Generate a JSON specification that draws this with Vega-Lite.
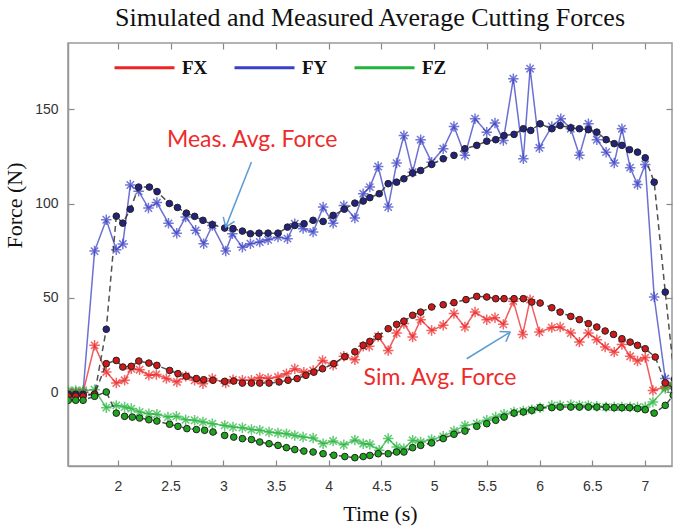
{
"$schema": "https://vega.github.io/schema/vega-lite/v6.json",
"width": 604,
"height": 423,
"autosize": {"type": "none"},
"padding": {"left": 68, "top": 43, "right": 2, "bottom": 62},
"background": "white",
"title": {"text": "Simulated and Measured Average Cutting Forces", "font": "Liberation Serif", "fontSize": 26, "fontWeight": "normal", "color": "#111", "anchor": "middle", "offset": 5},
"config": {
  "view": {"stroke": "#999", "strokeWidth": 1.5},
  "axis": {"grid": false, "domainColor": "#999", "domainWidth": 1.5, "tickColor": "#888", "tickWidth": 1.2, "labelFont": "Liberation Sans", "labelFontSize": 14, "labelColor": "#333", "titleFont": "Liberation Serif", "titleFontSize": 22, "titleFontWeight": "normal", "titleColor": "#111"}
},
"datasets": {
"forces": [
{"c":"FY","k":"meas","t":1.53,"f":0},{"c":"FY","k":"meas","t":1.6,"f":0},{"c":"FY","k":"meas","t":1.67,"f":0},{"c":"FY","k":"meas","t":1.779,"f":74.8},{"c":"FY","k":"meas","t":1.89,"f":91.4},{"c":"FY","k":"meas","t":1.985,"f":75.5},{"c":"FY","k":"meas","t":2.047,"f":78.6},{"c":"FY","k":"meas","t":2.118,"f":109.8},{"c":"FY","k":"meas","t":2.197,"f":106.5},{"c":"FY","k":"meas","t":2.29,"f":97.6},{"c":"FY","k":"meas","t":2.37,"f":100.5},{"c":"FY","k":"meas","t":2.48,"f":89.5},{"c":"FY","k":"meas","t":2.558,"f":84.2},{"c":"FY","k":"meas","t":2.643,"f":92.8},{"c":"FY","k":"meas","t":2.738,"f":85.8},{"c":"FY","k":"meas","t":2.814,"f":78.7},{"c":"FY","k":"meas","t":2.896,"f":88.4},{"c":"FY","k":"meas","t":3.023,"f":74.8},{"c":"FY","k":"meas","t":3.086,"f":84},{"c":"FY","k":"meas","t":3.181,"f":76.9},{"c":"FY","k":"meas","t":3.257,"f":78.7},{"c":"FY","k":"meas","t":3.346,"f":79.6},{"c":"FY","k":"meas","t":3.425,"f":80.8},{"c":"FY","k":"meas","t":3.519,"f":82.2},{"c":"FY","k":"meas","t":3.609,"f":81.4},{"c":"FY","k":"meas","t":3.678,"f":89.3},{"c":"FY","k":"meas","t":3.757,"f":86.7},{"c":"FY","k":"meas","t":3.852,"f":84.9},{"c":"FY","k":"meas","t":3.947,"f":98.1},{"c":"FY","k":"meas","t":4.042,"f":89.5},{"c":"FY","k":"meas","t":4.143,"f":99},{"c":"FY","k":"meas","t":4.248,"f":92.3},{"c":"FY","k":"meas","t":4.327,"f":105.2},{"c":"FY","k":"meas","t":4.39,"f":108.7},{"c":"FY","k":"meas","t":4.469,"f":119.6},{"c":"FY","k":"meas","t":4.564,"f":98.1},{"c":"FY","k":"meas","t":4.644,"f":121.4},{"c":"FY","k":"meas","t":4.713,"f":136},{"c":"FY","k":"meas","t":4.796,"f":116.6},{"c":"FY","k":"meas","t":4.872,"f":133.8},{"c":"FY","k":"meas","t":4.976,"f":121.9},{"c":"FY","k":"meas","t":5.086,"f":129},{"c":"FY","k":"meas","t":5.188,"f":140.8},{"c":"FY","k":"meas","t":5.292,"f":125.5},{"c":"FY","k":"meas","t":5.388,"f":144.9},{"c":"FY","k":"meas","t":5.499,"f":137.8},{"c":"FY","k":"meas","t":5.577,"f":142.6},{"c":"FY","k":"meas","t":5.656,"f":133.4},{"c":"FY","k":"meas","t":5.751,"f":166.1},{"c":"FY","k":"meas","t":5.846,"f":123.7},{"c":"FY","k":"meas","t":5.91,"f":171.4},{"c":"FY","k":"meas","t":5.998,"f":129.5},{"c":"FY","k":"meas","t":6.116,"f":140.8},{"c":"FY","k":"meas","t":6.201,"f":144.9},{"c":"FY","k":"meas","t":6.296,"f":139.6},{"c":"FY","k":"meas","t":6.378,"f":125.5},{"c":"FY","k":"meas","t":6.463,"f":142.2},{"c":"FY","k":"meas","t":6.543,"f":133.8},{"c":"FY","k":"meas","t":6.631,"f":127.2},{"c":"FY","k":"meas","t":6.708,"f":121.4},{"c":"FY","k":"meas","t":6.781,"f":139.6},{"c":"FY","k":"meas","t":6.859,"f":119},{"c":"FY","k":"meas","t":6.929,"f":110.1},{"c":"FY","k":"meas","t":7.002,"f":120.7},{"c":"FY","k":"meas","t":7.087,"f":50.5},{"c":"FY","k":"meas","t":7.192,"f":7.3},{"c":"FY","k":"meas","t":7.28,"f":2},
{"c":"FY","k":"sim","t":1.53,"f":-1},{"c":"FY","k":"sim","t":1.6,"f":-1},{"c":"FY","k":"sim","t":1.67,"f":-1},{"c":"FY","k":"sim","t":1.779,"f":-1},{"c":"FY","k":"sim","t":1.89,"f":33.4},{"c":"FY","k":"sim","t":1.985,"f":93.3},{"c":"FY","k":"sim","t":2.047,"f":89.6},{"c":"FY","k":"sim","t":2.118,"f":97},{"c":"FY","k":"sim","t":2.197,"f":108.7},{"c":"FY","k":"sim","t":2.299,"f":108.7},{"c":"FY","k":"sim","t":2.372,"f":106.3},{"c":"FY","k":"sim","t":2.488,"f":100},{"c":"FY","k":"sim","t":2.565,"f":97.9},{"c":"FY","k":"sim","t":2.65,"f":94.9},{"c":"FY","k":"sim","t":2.728,"f":93.2},{"c":"FY","k":"sim","t":2.807,"f":91.1},{"c":"FY","k":"sim","t":2.896,"f":88.8},{"c":"FY","k":"sim","t":3.013,"f":87},{"c":"FY","k":"sim","t":3.092,"f":86.7},{"c":"FY","k":"sim","t":3.181,"f":85.4},{"c":"FY","k":"sim","t":3.257,"f":84},{"c":"FY","k":"sim","t":3.339,"f":84.3},{"c":"FY","k":"sim","t":3.425,"f":84.3},{"c":"FY","k":"sim","t":3.519,"f":84.3},{"c":"FY","k":"sim","t":3.609,"f":87.5},{"c":"FY","k":"sim","t":3.678,"f":88.4},{"c":"FY","k":"sim","t":3.766,"f":89.3},{"c":"FY","k":"sim","t":3.852,"f":91.1},{"c":"FY","k":"sim","t":3.947,"f":90.5},{"c":"FY","k":"sim","t":4.042,"f":93.7},{"c":"FY","k":"sim","t":4.148,"f":97},{"c":"FY","k":"sim","t":4.248,"f":100.2},{"c":"FY","k":"sim","t":4.327,"f":101.3},{"c":"FY","k":"sim","t":4.39,"f":103.1},{"c":"FY","k":"sim","t":4.479,"f":105.2},{"c":"FY","k":"sim","t":4.564,"f":110.5},{"c":"FY","k":"sim","t":4.644,"f":111.3},{"c":"FY","k":"sim","t":4.713,"f":113.1},{"c":"FY","k":"sim","t":4.796,"f":116.1},{"c":"FY","k":"sim","t":4.872,"f":117.5},{"c":"FY","k":"sim","t":4.976,"f":120.7},{"c":"FY","k":"sim","t":5.086,"f":123.7},{"c":"FY","k":"sim","t":5.188,"f":125.5},{"c":"FY","k":"sim","t":5.292,"f":129},{"c":"FY","k":"sim","t":5.404,"f":130.8},{"c":"FY","k":"sim","t":5.499,"f":133},{"c":"FY","k":"sim","t":5.584,"f":133.8},{"c":"FY","k":"sim","t":5.663,"f":136},{"c":"FY","k":"sim","t":5.758,"f":136.6},{"c":"FY","k":"sim","t":5.846,"f":139.6},{"c":"FY","k":"sim","t":5.916,"f":138.7},{"c":"FY","k":"sim","t":6.005,"f":142.2},{"c":"FY","k":"sim","t":6.116,"f":139.6},{"c":"FY","k":"sim","t":6.195,"f":141.3},{"c":"FY","k":"sim","t":6.296,"f":140.1},{"c":"FY","k":"sim","t":6.378,"f":139.6},{"c":"FY","k":"sim","t":6.463,"f":139.1},{"c":"FY","k":"sim","t":6.543,"f":137.8},{"c":"FY","k":"sim","t":6.631,"f":133.8},{"c":"FY","k":"sim","t":6.708,"f":131.7},{"c":"FY","k":"sim","t":6.781,"f":130.8},{"c":"FY","k":"sim","t":6.853,"f":128.5},{"c":"FY","k":"sim","t":6.929,"f":127.2},{"c":"FY","k":"sim","t":7.002,"f":124.2},{"c":"FY","k":"sim","t":7.087,"f":111.3},{"c":"FY","k":"sim","t":7.192,"f":53.1},{"c":"FY","k":"sim","t":7.28,"f":7},
{"c":"FX","k":"meas","t":1.53,"f":0},{"c":"FX","k":"meas","t":1.6,"f":0},{"c":"FX","k":"meas","t":1.67,"f":0},{"c":"FX","k":"meas","t":1.779,"f":24.9},{"c":"FX","k":"meas","t":1.89,"f":10.8},{"c":"FX","k":"meas","t":1.985,"f":4.9},{"c":"FX","k":"meas","t":2.064,"f":6.4},{"c":"FX","k":"meas","t":2.127,"f":12.5},{"c":"FX","k":"meas","t":2.206,"f":12},{"c":"FX","k":"meas","t":2.294,"f":9},{"c":"FX","k":"meas","t":2.365,"f":9.5},{"c":"FX","k":"meas","t":2.46,"f":7.3},{"c":"FX","k":"meas","t":2.56,"f":5.5},{"c":"FX","k":"meas","t":2.643,"f":8.5},{"c":"FX","k":"meas","t":2.728,"f":6.4},{"c":"FX","k":"meas","t":2.807,"f":4.6},{"c":"FX","k":"meas","t":2.896,"f":7.3},{"c":"FX","k":"meas","t":3.023,"f":4.9},{"c":"FX","k":"meas","t":3.092,"f":6.7},{"c":"FX","k":"meas","t":3.181,"f":6.4},{"c":"FX","k":"meas","t":3.267,"f":6.4},{"c":"FX","k":"meas","t":3.346,"f":7.8},{"c":"FX","k":"meas","t":3.425,"f":7.3},{"c":"FX","k":"meas","t":3.519,"f":8.1},{"c":"FX","k":"meas","t":3.599,"f":9.9},{"c":"FX","k":"meas","t":3.678,"f":12.5},{"c":"FX","k":"meas","t":3.764,"f":10.7},{"c":"FX","k":"meas","t":3.852,"f":11.6},{"c":"FX","k":"meas","t":3.941,"f":16.9},{"c":"FX","k":"meas","t":4.042,"f":14.3},{"c":"FX","k":"meas","t":4.143,"f":19.1},{"c":"FX","k":"meas","t":4.248,"f":17.3},{"c":"FX","k":"meas","t":4.327,"f":24.4},{"c":"FX","k":"meas","t":4.384,"f":24.4},{"c":"FX","k":"meas","t":4.469,"f":29.6},{"c":"FX","k":"meas","t":4.564,"f":22.2},{"c":"FX","k":"meas","t":4.644,"f":31.4},{"c":"FX","k":"meas","t":4.713,"f":36.4},{"c":"FX","k":"meas","t":4.796,"f":29.3},{"c":"FX","k":"meas","t":4.872,"f":38.5},{"c":"FX","k":"meas","t":4.976,"f":32.8},{"c":"FX","k":"meas","t":5.086,"f":35.5},{"c":"FX","k":"meas","t":5.188,"f":41.7},{"c":"FX","k":"meas","t":5.292,"f":34.6},{"c":"FX","k":"meas","t":5.388,"f":42.5},{"c":"FX","k":"meas","t":5.499,"f":38.5},{"c":"FX","k":"meas","t":5.577,"f":39.5},{"c":"FX","k":"meas","t":5.656,"f":36},{"c":"FX","k":"meas","t":5.751,"f":48.3},{"c":"FX","k":"meas","t":5.84,"f":30.7},{"c":"FX","k":"meas","t":5.91,"f":49.1},{"c":"FX","k":"meas","t":5.998,"f":31.9},{"c":"FX","k":"meas","t":6.116,"f":34.3},{"c":"FX","k":"meas","t":6.195,"f":34.6},{"c":"FX","k":"meas","t":6.296,"f":31.4},{"c":"FX","k":"meas","t":6.378,"f":26.6},{"c":"FX","k":"meas","t":6.463,"f":31.4},{"c":"FX","k":"meas","t":6.543,"f":27.9},{"c":"FX","k":"meas","t":6.622,"f":24},{"c":"FX","k":"meas","t":6.708,"f":21.3},{"c":"FX","k":"meas","t":6.781,"f":25.4},{"c":"FX","k":"meas","t":6.859,"f":19.1},{"c":"FX","k":"meas","t":6.929,"f":16.6},{"c":"FX","k":"meas","t":7.002,"f":18.4},{"c":"FX","k":"meas","t":7.075,"f":1},{"c":"FX","k":"meas","t":7.192,"f":3},{"c":"FX","k":"meas","t":7.28,"f":5},
{"c":"FX","k":"sim","t":1.53,"f":-2},{"c":"FX","k":"sim","t":1.6,"f":-2},{"c":"FX","k":"sim","t":1.67,"f":-2},{"c":"FX","k":"sim","t":1.779,"f":-1},{"c":"FX","k":"sim","t":1.89,"f":15.2},{"c":"FX","k":"sim","t":1.985,"f":16.9},{"c":"FX","k":"sim","t":2.047,"f":13.4},{"c":"FX","k":"sim","t":2.127,"f":13.8},{"c":"FX","k":"sim","t":2.199,"f":16.6},{"c":"FX","k":"sim","t":2.294,"f":15.5},{"c":"FX","k":"sim","t":2.37,"f":14.3},{"c":"FX","k":"sim","t":2.491,"f":11.6},{"c":"FX","k":"sim","t":2.57,"f":9.9},{"c":"FX","k":"sim","t":2.65,"f":8.5},{"c":"FX","k":"sim","t":2.745,"f":7.3},{"c":"FX","k":"sim","t":2.814,"f":6.7},{"c":"FX","k":"sim","t":2.902,"f":6.4},{"c":"FX","k":"sim","t":3.013,"f":5.8},{"c":"FX","k":"sim","t":3.099,"f":6},{"c":"FX","k":"sim","t":3.181,"f":4.9},{"c":"FX","k":"sim","t":3.267,"f":4.9},{"c":"FX","k":"sim","t":3.346,"f":4.9},{"c":"FX","k":"sim","t":3.434,"f":4.9},{"c":"FX","k":"sim","t":3.529,"f":5.5},{"c":"FX","k":"sim","t":3.614,"f":6.4},{"c":"FX","k":"sim","t":3.7,"f":7.3},{"c":"FX","k":"sim","t":3.783,"f":9},{"c":"FX","k":"sim","t":3.859,"f":10.7},{"c":"FX","k":"sim","t":3.941,"f":12.5},{"c":"FX","k":"sim","t":4.048,"f":15.2},{"c":"FX","k":"sim","t":4.153,"f":18.9},{"c":"FX","k":"sim","t":4.248,"f":21.5},{"c":"FX","k":"sim","t":4.327,"f":24.9},{"c":"FX","k":"sim","t":4.39,"f":27},{"c":"FX","k":"sim","t":4.469,"f":29.6},{"c":"FX","k":"sim","t":4.564,"f":33.7},{"c":"FX","k":"sim","t":4.644,"f":36},{"c":"FX","k":"sim","t":4.713,"f":37.7},{"c":"FX","k":"sim","t":4.796,"f":40.8},{"c":"FX","k":"sim","t":4.872,"f":42.5},{"c":"FX","k":"sim","t":4.976,"f":45.2},{"c":"FX","k":"sim","t":5.086,"f":46.4},{"c":"FX","k":"sim","t":5.188,"f":47.5},{"c":"FX","k":"sim","t":5.302,"f":49.1},{"c":"FX","k":"sim","t":5.404,"f":50.8},{"c":"FX","k":"sim","t":5.499,"f":50.5},{"c":"FX","k":"sim","t":5.584,"f":49.6},{"c":"FX","k":"sim","t":5.663,"f":49.6},{"c":"FX","k":"sim","t":5.758,"f":49.6},{"c":"FX","k":"sim","t":5.846,"f":49.6},{"c":"FX","k":"sim","t":5.926,"f":47.8},{"c":"FX","k":"sim","t":6.005,"f":47.3},{"c":"FX","k":"sim","t":6.116,"f":44.8},{"c":"FX","k":"sim","t":6.195,"f":42.5},{"c":"FX","k":"sim","t":6.296,"f":40.2},{"c":"FX","k":"sim","t":6.378,"f":38.5},{"c":"FX","k":"sim","t":6.463,"f":36.4},{"c":"FX","k":"sim","t":6.543,"f":34.6},{"c":"FX","k":"sim","t":6.622,"f":32.5},{"c":"FX","k":"sim","t":6.701,"f":30.7},{"c":"FX","k":"sim","t":6.781,"f":28.4},{"c":"FX","k":"sim","t":6.859,"f":26.6},{"c":"FX","k":"sim","t":6.929,"f":24.9},{"c":"FX","k":"sim","t":7.002,"f":23.1},{"c":"FX","k":"sim","t":7.097,"f":18.7},{"c":"FX","k":"sim","t":7.192,"f":5},{"c":"FX","k":"sim","t":7.28,"f":2},
{"c":"FZ","k":"meas","t":1.53,"f":1},{"c":"FZ","k":"meas","t":1.6,"f":1},{"c":"FZ","k":"meas","t":1.67,"f":1},{"c":"FZ","k":"meas","t":1.779,"f":1.4},{"c":"FZ","k":"meas","t":1.89,"f":-8.1},{"c":"FZ","k":"meas","t":1.985,"f":-6.9},{"c":"FZ","k":"meas","t":2.064,"f":-7.8},{"c":"FZ","k":"meas","t":2.127,"f":-8.6},{"c":"FZ","k":"meas","t":2.206,"f":-10.4},{"c":"FZ","k":"meas","t":2.294,"f":-11.3},{"c":"FZ","k":"meas","t":2.37,"f":-11.6},{"c":"FZ","k":"meas","t":2.475,"f":-13.1},{"c":"FZ","k":"meas","t":2.555,"f":-12.7},{"c":"FZ","k":"meas","t":2.643,"f":-14.5},{"c":"FZ","k":"meas","t":2.728,"f":-14.8},{"c":"FZ","k":"meas","t":2.807,"f":-15.7},{"c":"FZ","k":"meas","t":2.896,"f":-16.6},{"c":"FZ","k":"meas","t":3.013,"f":-17.5},{"c":"FZ","k":"meas","t":3.092,"f":-18.4},{"c":"FZ","k":"meas","t":3.181,"f":-18.7},{"c":"FZ","k":"meas","t":3.267,"f":-19.7},{"c":"FZ","k":"meas","t":3.346,"f":-20.1},{"c":"FZ","k":"meas","t":3.434,"f":-21},{"c":"FZ","k":"meas","t":3.519,"f":-21.5},{"c":"FZ","k":"meas","t":3.599,"f":-21.9},{"c":"FZ","k":"meas","t":3.678,"f":-22.8},{"c":"FZ","k":"meas","t":3.757,"f":-23.7},{"c":"FZ","k":"meas","t":3.852,"f":-24.2},{"c":"FZ","k":"meas","t":3.947,"f":-27.2},{"c":"FZ","k":"meas","t":4.042,"f":-25.8},{"c":"FZ","k":"meas","t":4.143,"f":-27.8},{"c":"FZ","k":"meas","t":4.248,"f":-25.2},{"c":"FZ","k":"meas","t":4.327,"f":-27.2},{"c":"FZ","k":"meas","t":4.39,"f":-27.5},{"c":"FZ","k":"meas","t":4.479,"f":-30.7},{"c":"FZ","k":"meas","t":4.564,"f":-24.5},{"c":"FZ","k":"meas","t":4.644,"f":-29},{"c":"FZ","k":"meas","t":4.713,"f":-29.8},{"c":"FZ","k":"meas","t":4.796,"f":-25.4},{"c":"FZ","k":"meas","t":4.872,"f":-26.3},{"c":"FZ","k":"meas","t":4.976,"f":-25},{"c":"FZ","k":"meas","t":5.086,"f":-23.3},{"c":"FZ","k":"meas","t":5.188,"f":-20.5},{"c":"FZ","k":"meas","t":5.292,"f":-17.5},{"c":"FZ","k":"meas","t":5.404,"f":-16.6},{"c":"FZ","k":"meas","t":5.499,"f":-14.8},{"c":"FZ","k":"meas","t":5.584,"f":-13.1},{"c":"FZ","k":"meas","t":5.663,"f":-11.6},{"c":"FZ","k":"meas","t":5.758,"f":-10.4},{"c":"FZ","k":"meas","t":5.846,"f":-9.9},{"c":"FZ","k":"meas","t":5.926,"f":-9.2},{"c":"FZ","k":"meas","t":6.005,"f":-8.1},{"c":"FZ","k":"meas","t":6.116,"f":-6.9},{"c":"FZ","k":"meas","t":6.195,"f":-6.9},{"c":"FZ","k":"meas","t":6.296,"f":-6.5},{"c":"FZ","k":"meas","t":6.378,"f":-6.9},{"c":"FZ","k":"meas","t":6.463,"f":-6.9},{"c":"FZ","k":"meas","t":6.543,"f":-7.4},{"c":"FZ","k":"meas","t":6.631,"f":-7.8},{"c":"FZ","k":"meas","t":6.708,"f":-7.8},{"c":"FZ","k":"meas","t":6.781,"f":-7.8},{"c":"FZ","k":"meas","t":6.859,"f":-7.8},{"c":"FZ","k":"meas","t":6.929,"f":-7.8},{"c":"FZ","k":"meas","t":7.002,"f":-7.8},{"c":"FZ","k":"meas","t":7.075,"f":-5.1},{"c":"FZ","k":"meas","t":7.192,"f":2},{"c":"FZ","k":"meas","t":7.268,"f":3.7},
{"c":"FZ","k":"sim","t":1.53,"f":-4.2},{"c":"FZ","k":"sim","t":1.6,"f":-4.2},{"c":"FZ","k":"sim","t":1.67,"f":-4.2},{"c":"FZ","k":"sim","t":1.779,"f":-2.1},{"c":"FZ","k":"sim","t":1.89,"f":0.2},{"c":"FZ","k":"sim","t":1.985,"f":-11},{"c":"FZ","k":"sim","t":2.064,"f":-12.7},{"c":"FZ","k":"sim","t":2.137,"f":-13.1},{"c":"FZ","k":"sim","t":2.206,"f":-13.6},{"c":"FZ","k":"sim","t":2.294,"f":-14.5},{"c":"FZ","k":"sim","t":2.37,"f":-15.2},{"c":"FZ","k":"sim","t":2.491,"f":-16.9},{"c":"FZ","k":"sim","t":2.57,"f":-18},{"c":"FZ","k":"sim","t":2.655,"f":-19.2},{"c":"FZ","k":"sim","t":2.745,"f":-19.7},{"c":"FZ","k":"sim","t":2.823,"f":-20.1},{"c":"FZ","k":"sim","t":2.902,"f":-21},{"c":"FZ","k":"sim","t":3.013,"f":-22.8},{"c":"FZ","k":"sim","t":3.099,"f":-23.7},{"c":"FZ","k":"sim","t":3.181,"f":-24.5},{"c":"FZ","k":"sim","t":3.267,"f":-25},{"c":"FZ","k":"sim","t":3.346,"f":-26.3},{"c":"FZ","k":"sim","t":3.434,"f":-27.2},{"c":"FZ","k":"sim","t":3.519,"f":-28.1},{"c":"FZ","k":"sim","t":3.599,"f":-29.3},{"c":"FZ","k":"sim","t":3.678,"f":-30.3},{"c":"FZ","k":"sim","t":3.764,"f":-31.1},{"c":"FZ","k":"sim","t":3.852,"f":-31.6},{"c":"FZ","k":"sim","t":3.947,"f":-32.5},{"c":"FZ","k":"sim","t":4.048,"f":-33.3},{"c":"FZ","k":"sim","t":4.153,"f":-34},{"c":"FZ","k":"sim","t":4.248,"f":-34.6},{"c":"FZ","k":"sim","t":4.327,"f":-34},{"c":"FZ","k":"sim","t":4.39,"f":-33.4},{"c":"FZ","k":"sim","t":4.469,"f":-32.5},{"c":"FZ","k":"sim","t":4.564,"f":-32.5},{"c":"FZ","k":"sim","t":4.644,"f":-31.6},{"c":"FZ","k":"sim","t":4.713,"f":-31.6},{"c":"FZ","k":"sim","t":4.796,"f":-29.3},{"c":"FZ","k":"sim","t":4.872,"f":-28.1},{"c":"FZ","k":"sim","t":4.976,"f":-26.8},{"c":"FZ","k":"sim","t":5.086,"f":-24.5},{"c":"FZ","k":"sim","t":5.188,"f":-22.2},{"c":"FZ","k":"sim","t":5.292,"f":-20.5},{"c":"FZ","k":"sim","t":5.404,"f":-18},{"c":"FZ","k":"sim","t":5.499,"f":-16.6},{"c":"FZ","k":"sim","t":5.584,"f":-14.8},{"c":"FZ","k":"sim","t":5.663,"f":-13.1},{"c":"FZ","k":"sim","t":5.758,"f":-11},{"c":"FZ","k":"sim","t":5.846,"f":-10.4},{"c":"FZ","k":"sim","t":5.926,"f":-9.5},{"c":"FZ","k":"sim","t":6.005,"f":-8.1},{"c":"FZ","k":"sim","t":6.116,"f":-8.1},{"c":"FZ","k":"sim","t":6.195,"f":-7.8},{"c":"FZ","k":"sim","t":6.296,"f":-7.8},{"c":"FZ","k":"sim","t":6.378,"f":-7.8},{"c":"FZ","k":"sim","t":6.463,"f":-7.8},{"c":"FZ","k":"sim","t":6.543,"f":-7.8},{"c":"FZ","k":"sim","t":6.631,"f":-7.8},{"c":"FZ","k":"sim","t":6.708,"f":-8.1},{"c":"FZ","k":"sim","t":6.781,"f":-8.1},{"c":"FZ","k":"sim","t":6.853,"f":-8.1},{"c":"FZ","k":"sim","t":6.929,"f":-8.6},{"c":"FZ","k":"sim","t":7.002,"f":-9.2},{"c":"FZ","k":"sim","t":7.087,"f":-11},{"c":"FZ","k":"sim","t":7.192,"f":-6.9},{"c":"FZ","k":"sim","t":7.268,"f":-1.6}
]
},
"data": {"name": "forces"},
"layer": [
{
  "transform": [{"filter": "datum.k === 'meas'"}],
  "mark": {"type": "line", "strokeWidth": 1.5, "opacity": 0.75, "clip": true},
  "encoding": {
    "x": {"field": "t", "type": "quantitative", "scale": {"domain": [1.527, 7.256], "nice": false, "zero": false},
      "axis": {"orient": "bottom", "values": [2, 2.5, 3, 3.5, 4, 4.5, 5, 5.5, 6, 6.5, 7], "format": "~g", "tickSize": -6, "labelPadding": 19, "title": "Time (s)", "titlePadding": 10, "titleX": 312, "titleAlign": "center"}},
    "y": {"field": "f", "type": "quantitative", "scale": {"domain": [-39, 185], "nice": false, "zero": false},
      "axis": {"orient": "left", "values": [0, 50, 100, 150], "tickSize": -6, "labelPadding": 16, "title": "Force (N)", "titleX": -42, "titleY": 162, "titleAlign": "center", "titleBaseline": "bottom"}},
    "color": {"field": "c", "type": "nominal",
      "scale": {"domain": ["FX", "FY", "FZ"], "range": ["#ee2424", "#3a40c4", "#22b43a"]},
      "legend": {"orient": "none", "legendX": 45, "legendY": -7, "direction": "horizontal", "columns": 3, "title": null,
        "symbolType": "stroke", "symbolSize": 3600, "symbolStrokeWidth": 3, "symbolOpacity": 1,
        "labelFont": "Liberation Serif", "labelFontSize": 19, "labelFontWeight": "bold", "labelColor": "#111", "labelOffset": 6, "columnPadding": 20}}
  }
},
{
  "transform": [{"filter": "datum.k === 'meas'"}],
  "mark": {"type": "point", "shape": "M-1,0L1,0M0,-1L0,1M-0.7,-0.7L0.7,0.7M-0.7,0.7L0.7,-0.7", "filled": false, "size": 110, "strokeWidth": 1.5, "opacity": 0.7, "clip": true},
  "encoding": {
    "x": {"field": "t", "type": "quantitative", "axis": {"orient": "top", "values": [2, 2.5, 3, 3.5, 4, 4.5, 5, 5.5, 6, 6.5, 7], "tickSize": -6, "labels": false, "domain": false, "title": null}},
    "y": {"field": "f", "type": "quantitative", "axis": {"orient": "right", "values": [0, 50, 100, 150], "tickSize": -6, "labels": false, "domain": false, "title": null}},
    "color": {"field": "c", "type": "nominal", "legend": null}
  }
},
{
  "transform": [{"filter": "datum.k === 'sim'"}],
  "mark": {"type": "line", "color": "#333", "strokeDash": [6, 4], "strokeWidth": 1.5, "opacity": 0.85, "clip": true},
  "encoding": {
    "x": {"field": "t", "type": "quantitative", "axis": null},
    "y": {"field": "f", "type": "quantitative", "axis": null},
    "detail": {"field": "c", "type": "nominal"}
  }
},
{
  "transform": [{"filter": "datum.k === 'sim'"}],
  "mark": {"type": "point", "shape": "circle", "filled": true, "size": 44, "stroke": "#222", "strokeWidth": 1, "opacity": 1, "clip": true},
  "encoding": {
    "x": {"field": "t", "type": "quantitative", "axis": null},
    "y": {"field": "f", "type": "quantitative", "axis": null},
    "fill": {"field": "c", "type": "nominal", "scale": {"domain": ["FX", "FY", "FZ"], "range": ["#d01818", "#23237e", "#1ea51e"]}, "legend": null}
  }
},
{
  "data": {"values": [{}]},
  "mark": {"type": "text", "text": "Meas. Avg. Force", "font": "Lato", "fontSize": 23, "color": "#ee2b2b", "align": "center", "baseline": "middle"},
  "encoding": {"x": {"datum": 3.274, "type": "quantitative", "axis": null}, "y": {"datum": 133.4, "type": "quantitative", "axis": null}}
},
{
  "data": {"values": [{}]},
  "mark": {"type": "text", "text": "Sim. Avg. Force", "font": "Lato", "fontSize": 23, "color": "#ee2b2b", "align": "center", "baseline": "middle"},
  "encoding": {"x": {"datum": 5.055, "type": "quantitative", "axis": null}, "y": {"datum": 7.4, "type": "quantitative", "axis": null}}
},
{
  "data": {"values": [{}]},
  "mark": {"type": "rule", "color": "#5b9bd5", "strokeWidth": 1.5},
  "encoding": {"x": {"datum": 3.267, "type": "quantitative", "axis": null}, "y": {"datum": 122, "type": "quantitative", "axis": null}, "x2": {"datum": 3.023}, "y2": {"datum": 87.5}}
},
{
  "data": {"values": [{}]},
  "mark": {"type": "rule", "color": "#5b9bd5", "strokeWidth": 1.5},
  "encoding": {"x": {"datum": 5.309, "type": "quantitative", "axis": null}, "y": {"datum": 17.8, "type": "quantitative", "axis": null}, "x2": {"datum": 5.72}, "y2": {"datum": 31.9}}
},
{
  "data": {"values": [{}]},
  "mark": {"type": "point", "shape": "M-1,-0.7L0,0L-1,0.7", "filled": false, "size": 300, "strokeWidth": 1.5, "color": "#5b9bd5", "opacity": 1, "angle": 111.6},
  "encoding": {"x": {"datum": 3.023, "type": "quantitative", "axis": null}, "y": {"datum": 87.5, "type": "quantitative", "axis": null}}
},
{
  "data": {"values": [{}]},
  "mark": {"type": "point", "shape": "M-1,-0.7L0,0L-1,0.7", "filled": false, "size": 300, "strokeWidth": 1.5, "color": "#5b9bd5", "opacity": 1, "angle": 328.4},
  "encoding": {"x": {"datum": 5.72, "type": "quantitative", "axis": null}, "y": {"datum": 31.9, "type": "quantitative", "axis": null}}
}
],
"resolve": {"axis": {"x": "independent", "y": "independent"}}
}
